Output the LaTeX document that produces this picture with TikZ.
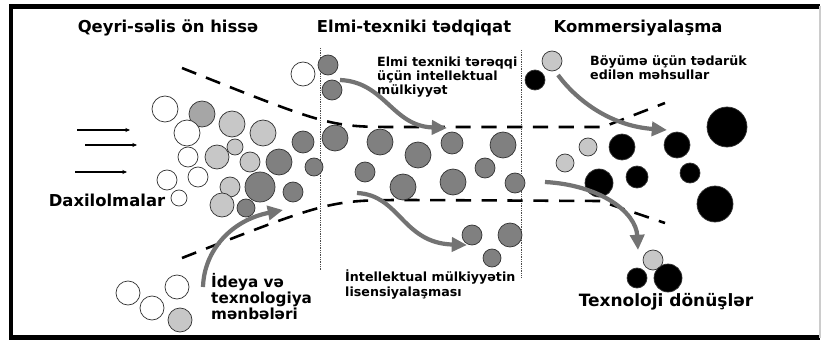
\documentclass[tikz,border=0pt]{standalone}
\usepackage{fontspec}
\setmainfont{DejaVu Sans}
\usetikzlibrary{positioning,arrows.meta}

\begin{document}
\begin{tikzpicture}[
    x=0.03cm, y=-0.03cm,
    every node/.style={font=\bfseries},
    head/.style={font=\bfseries\fontsize{14}{16}\selectfont, inner sep=0pt},
    lbl/.style={font=\bfseries\fontsize{10.8}{12}\selectfont, align=left, anchor=north west, inner sep=0pt},
    dot/.style={circle, draw=black!80, line width=0.6pt, inner sep=0pt},
    pw/.style={dot, fill=white},
    pl/.style={dot, fill=black!22},
    pm/.style={dot, fill=black!35},
    pd/.style={dot, fill=black!50},
    pb/.style={dot, fill=black},
    funnel/.style={line width=2.2pt, dash pattern=on 13pt off 9pt},
    zone/.style={densely dotted, line width=0.5pt, black!70},
    garr/.style={-{Triangle[length=13pt,width=12pt]}, draw=black!55, line width=3.6pt},
    inarr/.style={-{Stealth[length=4pt,width=3.5pt]}, line width=1pt}
  ]
    \useasboundingbox (0,0) rectangle (823,342);

    % frame
    \draw[line width=3.6pt] (820,6.5) -- (11,6.5) -- (11,337.5) -- (820,337.5);
    \draw[black!20, line width=1pt] (820,6.5) -- (820,337.5);

    % stage titles
    \node[head] (fuzzy) at (168,28) {Qeyri-səlis ön hissə};
    \node[head] (rnd) at (414,28) {Elmi-texniki tədqiqat};
    \node[head] (comm) at (638,28) {Kommersiyalaşma};

    % stage borders
    \draw[zone] (320,48) -- (320,270);
    \draw[zone] (521,50) -- (521,277);

    % funnel
    \draw[funnel] (182,68) .. controls (330,127) .. (400,127) -- (603,127) -- (665,103);
    \draw[funnel] (182,258) .. controls (330,200) .. (410,200) -- (600,201) -- (665,223);

    % ideas / projects
    \foreach \x/\y/\r/\s [count=\i] in {
        165/109/13/pw, 202/114/13/pm, 232/124/13/pl, 263/133/13/pl, 187/133/13/pw,
        303/142/11/pd, 235/147/8/pl, 188/157/10/pw, 217/157/12/pl, 250/162/10/pl,
        279/162/13/pd, 314/167/9/pd, 167/180/10/pw, 198/177/10/pw, 230/187/10/pl,
        260/187/15/pd, 293/192/10/pd, 179/198/8/pw, 222/205/12/pl, 246/208/9/pd,
        303/74/12/pw, 128/293/12/pw, 177/287/12/pw, 152/308/12/pw, 180/320/12/pl,
        328/65/10/pd, 332/90/10/pd, 335/138/13/pd, 380/142/13/pd, 418/155/13/pd,
        452/143/11/pd, 503/145/13/pd, 365/172/10/pd, 403/187/13/pd, 453/182/13/pd,
        485/168/10/pd, 515/183/10/pd, 472/235/10/pd, 510/235/12/pd, 492/258/9/pd,
        552/61/10/pl, 535/80/10/pb, 588/147/9/pl, 565/163/9/pl, 622/147/13/pb,
        677/145/13/pb, 727/127/20/pb, 637/177/11/pb, 690/173/10/pb, 599/183/14/pb,
        715/204/18/pb, 653/260/10/pl, 637/278/10/pb, 668/278/14/pb}
      \node[\s, minimum size=\r*0.06cm] (c\i) at (\x,\y) {};

    % inputs
    \node[font=\bfseries\fontsize{14}{16}\selectfont, inner sep=0pt] (inputs) at (107,200) {Daxilolmalar};
    \coordinate (in1) at (77,130);  \coordinate (out1) at (130,130);
    \coordinate (in2) at (85,145);  \coordinate (out2) at (137,145);
    \coordinate (in3) at (75,172);  \coordinate (out3) at (127,172);
    \draw[inarr] (in1) -- (out1);
    \draw[inarr] (in2) -- (out2);
    \draw[inarr] (in3) -- (out3);

    % labels
    \node[lbl, font=\bfseries\fontsize{13}{13.6}\selectfont] (sources) at (211,273) {İdeya və\\texnologiya\\mənbələri};
    \node[lbl] (ipdev) at (377,57) {Elmi texniki tərəqqi\\üçün intellektual\\mülkiyyət};
    \node[lbl] (iplic) at (345,270) {İntellektual mülkiyyətin\\lisensiyalaşması};
    \node[lbl] (grow) at (590,55) {Böyümə üçün tədarük\\edilən məhsullar};
    \node[font=\bfseries\fontsize{14.5}{16}\selectfont, inner sep=0pt] (spin) at (666,302) {Texnoloji dönüşlər};

    % flows
    \coordinate (a1) at (203,287);  \coordinate (b1) at (283,210);
    \coordinate (a2) at (340,80);   \coordinate (b2) at (447,128);
    \coordinate (a3) at (357,193);  \coordinate (b3) at (467,245);
    \coordinate (a4) at (558,75);   \coordinate (b4) at (667,130);
    \coordinate (a5) at (545,182);  \coordinate (b5) at (638,250);
    \draw[garr] (a1) .. controls (204,250) and (232,220) .. (b1);
    \draw[garr] (a2) .. controls (385,82) and (392,126) .. (b2);
    \draw[garr] (a3) .. controls (400,195) and (402,243) .. (b3);
    \draw[garr] (a4) .. controls (578,102) and (612,126) .. (b4);
    \draw[garr] (a5) .. controls (600,185) and (636,212) .. (b5);
  \end{tikzpicture}
\end{document}
